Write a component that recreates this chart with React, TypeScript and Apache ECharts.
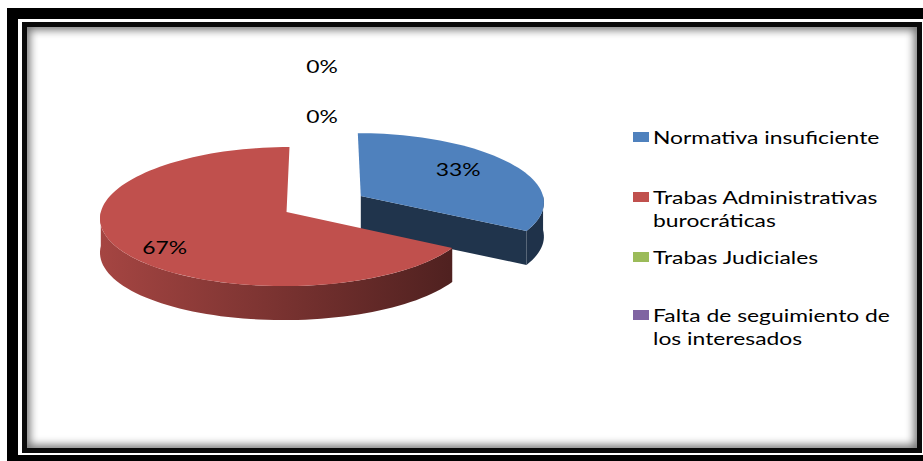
import React, { useEffect, useRef } from "react";
import * as echarts from "echarts";

// ---------- data ----------
const categories = [
  "Normativa insuficiente",
  "Trabas Administrativas burocráticas",
  "Trabas Judiciales",
  "Falta de seguimiento de los interesados",
];
const legendLines = [
  ["Normativa insuficiente"],
  ["Trabas Administrativas", "burocráticas"],
  ["Trabas Judiciales"],
  ["Falta de seguimiento de", "los interesados"],
];
const values = [1, 2, 0, 0];
const colors = ["#4F81BD", "#C0504D", "#9BBB59", "#8064A2"];

// ---------- layout ----------
const CX = 324, CY = 204, RX = 184, RY = 68.5, K = 0.066, K2 = 0.08, DEPTH = 34, EXPLODE = 0.233;
const FONT = "Lato";
const FS = 18;
const SX = 1.27;
const labelLayout = [
  { r: 0.64, dy: -6 },
  { r: 0.73, dy: 9 },
  { x: 322, y: 116 },
  { x: 322, y: 66 },
];
const legendX = 633;
const legendItemY = [137, 197, 257, 315];
const legendLineH = 23;

function shade(hex: string, f: number) {
  const n = parseInt(hex.slice(1), 16);
  const r = Math.round(((n >> 16) & 255) * f);
  const g = Math.round(((n >> 8) & 255) * f);
  const b = Math.round((n & 255) * f);
  return `rgb(${r},${g},${b})`;
}

function proj(u: number, v: number, h: number): number[] {
  return [CX + RX * u * (1 + K2 * v), CY + RY * (v + K * v * v) + h * DEPTH];
}

export default function App() {
  const ref = useRef<HTMLDivElement>(null);
  useEffect(() => {
    if (!ref.current) return;
    const chart = echarts.init(ref.current, undefined, { renderer: "svg" });
    const total = values.reduce((a, b) => a + b, 0);
    const starts: number[] = [];
    let acc = 0;
    values.forEach((v) => {
      starts.push((acc / total) * Math.PI * 2);
      acc += v;
    });

    const renderItem = (params: any, api: any) => {
      const i = params.dataIndex;
      const v = api.value(0);
      const pct = Math.round((v / total) * 100) + "%";
      const c = colors[i];
      const children: any[] = [];
      const mkText = (x: number, y: number) => ({
        type: "text",
        x,
        y,
        scaleX: SX,
        z2: 10,
        style: {
          text: pct,
          fill: "#000",
          fontSize: FS,
          fontFamily: FONT,
          align: "center",
          verticalAlign: "middle",
        },
      });
      if (v <= 0) {
        const L: any = labelLayout[i];
        children.push(mkText(L.x, L.y));
        return { type: "group", children };
      }
      const a0 = starts[i];
      const a1 = a0 + (v / total) * Math.PI * 2;
      const m = (a0 + a1) / 2;
      const ou = EXPLODE * Math.sin(m);
      const ov = -EXPLODE * Math.cos(m);
      const pt = (a: number, h: number) => proj(ou + Math.sin(a), ov - Math.cos(a), h);
      const arc = (b0: number, b1: number, h: number) => {
        const n = Math.max(2, Math.ceil(((b1 - b0) / (Math.PI * 2)) * 160));
        const pts: number[][] = [];
        for (let k = 0; k <= n; k++) pts.push(pt(b0 + ((b1 - b0) * k) / n, h));
        return pts;
      };
      const faceColor = shade(c, 0.4);
      // radial faces
      if (Math.sin(a0) < -1e-6) {
        children.push({
          type: "polygon",
          shape: { points: [proj(ou, ov, 0), pt(a0, 0), pt(a0, 1), proj(ou, ov, 1)] },
          style: { fill: faceColor },
        });
      }
      if (Math.sin(a1) > 1e-6) {
        children.push({
          type: "polygon",
          shape: { points: [proj(ou, ov, 0), pt(a1, 0), pt(a1, 1), proj(ou, ov, 1)] },
          style: { fill: faceColor },
        });
      }
      // outer wall (front half)
      const b0 = Math.max(a0, Math.PI / 2);
      const b1 = Math.min(a1, (Math.PI * 3) / 2);
      if (b1 > b0) {
        const top = arc(b0, b1, 0);
        const bot = arc(b0, b1, 1).reverse();
        children.push({
          type: "polygon",
          shape: { points: top.concat(bot) },
          style: {
            fill: new echarts.graphic.LinearGradient(
              100, 0, 470, 0,
              [
                { offset: 0, color: shade(c, 0.86) },
                { offset: 1, color: shade(c, 0.39) },
              ],
              true
            ),
          },
        });
      }
      // top face
      children.push({
        type: "polygon",
        shape: { points: [proj(ou, ov, 0)].concat(arc(a0, a1, 0)) },
        style: { fill: c },
      });
      const L: any = labelLayout[i];
      const lp = proj(ou + L.r * Math.sin(m), ov - L.r * Math.cos(m), 0);
      children.push(mkText(lp[0], lp[1] + L.dy));
      return { type: "group", children };
    };

    const graphics: any[] = [];
    legendLines.forEach((lines, i) => {
      const y = legendItemY[i];
      graphics.push({
        type: "rect",
        shape: { x: legendX, y: y - 5, width: 16, height: 10 },
        style: { fill: colors[i] },
      });
      lines.forEach((t, j) => {
        graphics.push({
          type: "text",
          x: legendX + 20,
          y: y + j * legendLineH,
          scaleX: SX,
          style: {
            text: t,
            fill: "#000",
            fontSize: FS,
            fontFamily: FONT,
            align: "left",
            verticalAlign: "middle",
          },
        });
      });
    });

    chart.setOption({
      animation: false,
      graphic: { elements: graphics },
      series: [
        {
          type: "custom",
          coordinateSystem: "none",
          renderItem,
          data: values.map((v, i) => ({ name: categories[i], value: [v] })),
        },
      ],
    });
    return () => chart.dispose();
  }, []);

  return (
    <div>
      <div style={{ position: "fixed", left: 7, top: 8, width: 916, height: 453, background: "#000" }} />
      <div style={{ position: "fixed", left: 18, top: 19, width: 905, height: 436, background: "#fff" }} />
      <div
        style={{
          position: "fixed",
          left: 22,
          top: 22,
          width: 900,
          height: 431,
          boxSizing: "border-box",
          border: "5px solid #0a0a0a",
          boxShadow: "inset 0 0 8px 3px rgba(0,0,0,0.55)",
          background: "#fff",
        }}
      />
      <div ref={ref} style={{ position: "fixed", left: 0, top: 0, width: 923, height: 461 }} />
    </div>
  );
}
